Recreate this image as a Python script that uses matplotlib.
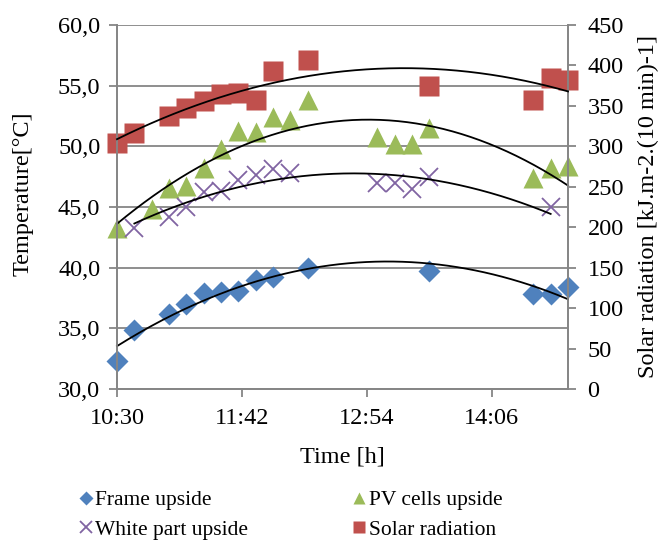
# -*- coding: utf-8 -*-
import numpy as np
import matplotlib
matplotlib.use("Agg")
import matplotlib.pyplot as plt
from matplotlib.ticker import FuncFormatter, MultipleLocator, FixedLocator

# measured data (times as hh:mm)
frame_time = ["10:30", "10:40", "11:00", "11:10", "11:20", "11:30", "11:40",
              "11:50", "12:00", "12:20", "13:30", "14:30", "14:40", "14:50"]
frame_temp = [32.3, 34.9, 36.2, 37.0, 37.9, 38.0, 38.1, 39.0, 39.2, 40.0,
              39.7, 37.8, 37.8, 38.4]

pv_time = ["10:30", "10:50", "11:00", "11:10", "11:20", "11:30", "11:40",
           "11:50", "12:00", "12:10", "12:20", "13:00", "13:10", "13:20",
           "13:30", "14:30", "14:40", "14:50"]
pv_temp = [43.3, 44.8, 46.6, 46.7, 48.2, 49.8, 51.3, 51.2, 52.4, 52.2, 53.8,
           50.8, 50.2, 50.2, 51.5, 47.4, 48.2, 48.4]

white_time = ["10:40", "11:00", "11:10", "11:20", "11:30", "11:40", "11:50",
              "12:00", "12:10", "13:00", "13:10", "13:20", "13:30", "14:40"]
white_temp = [43.3, 44.2, 45.0, 46.2, 46.3, 47.2, 47.6, 48.1, 47.8, 47.0,
              47.0, 46.5, 47.5, 45.0]

solar_time = frame_time
solar_rad = [304, 317, 338, 347, 356, 365, 366, 357, 393, 407, 375, 357,
             385, 382]

x_ticks = ["10:30", "11:42", "12:54", "14:06"]


def to_min(times):
    return np.array([int(t[:2]) * 60 + int(t[3:]) for t in times], dtype=float)


def hhmm(v, pos):
    v = int(round(v))
    return "%d:%02d" % (v // 60, v % 60)


def trend(ax, x, y):
    c = np.polyfit(x, y, 2)
    xs = np.linspace(x.min(), x.max(), 200)
    ax.plot(xs, np.polyval(c, xs), color="black", lw=1.3, zorder=5,
            clip_on=False)


plt.rcParams['font.family'] = ['Liberation Serif', 'DejaVu Serif']
plt.rcParams['font.size'] = 17.5

grey = "#868686"
blue, green, purple, red = "#4F81BD", "#9BBB59", "#8064A2", "#C0504D"

fig = plt.figure(figsize=(6.62, 5.40), dpi=100)
ax = fig.add_axes([117 / 662, 1 - 389 / 540, 451 / 662, 364 / 540])
ax2 = ax.twinx()

xf, xp, xw, xs = map(to_min, (frame_time, pv_time, white_time, solar_time))

h1, = ax.plot(xf, frame_temp, "D", color=blue, ms=11, mec="none", ls="none",
              label="Frame upside", clip_on=False)
h3, = ax.plot(xp, pv_temp, "^", color=green, ms=14, mec="none", ls="none",
              label="PV cells upside", clip_on=False)
h2, = ax.plot(xw, white_temp, "x", color=purple, ms=13, mew=1.3, ls="none",
              label="White part upside", clip_on=False)
trend(ax, xf, np.array(frame_temp))
trend(ax, xp, np.array(pv_temp))
trend(ax, xw, np.array(white_temp))

h4, = ax2.plot(xs, solar_rad, "s", color=red, ms=14, mec="none", ls="none",
               label="Solar radiation", clip_on=False)
trend(ax2, xs, np.array(solar_rad))

ax.set_xlim(630, 890)
ax.set_ylim(30, 60)
ax2.set_ylim(0, 450)
ax.xaxis.set_major_locator(FixedLocator(to_min(x_ticks)))
ax.xaxis.set_major_formatter(FuncFormatter(hhmm))
ax.yaxis.set_major_locator(MultipleLocator(5))
ax.yaxis.set_major_formatter(FuncFormatter(lambda v, p: ("%.1f" % v).replace(".", ",")))
ax2.yaxis.set_major_locator(MultipleLocator(50))

ax.grid(axis="y", color=grey, lw=1.3)
ax.set_axisbelow(True)
for a in (ax, ax2):
    a.spines["top"].set_visible(False)
    for s in ("left", "right", "bottom"):
        a.spines[s].set_color(grey)
        a.spines[s].set_linewidth(1.3)
    a.tick_params(color=grey, width=1.3, length=6)
ax.tick_params(axis="y", pad=6)
ax.tick_params(axis="x", pad=8)
ax2.tick_params(axis="y", pad=8)

ax.set_ylabel("Temperature[°C]")
ax.yaxis.set_label_coords(-0.184, 0.536)
ax.set_xlabel("Time [h]", labelpad=12)
ax2.set_ylabel("Solar radiation [kJ.m-2.(10 min)-1]", labelpad=10)

fig.legend([h1, h2, h3, h4], [h.get_label() for h in (h1, h2, h3, h4)],
           ncol=2, loc="upper left", bbox_to_anchor=(80 / 662, 1 - 490 / 540),
           frameon=False, handlelength=0.55, handletextpad=0.15,
           columnspacing=4.9, labelspacing=0.45, markerscale=0.65,
           borderaxespad=0, borderpad=0, fontsize=15.5)

fig.savefig("out.png", dpi=100)
